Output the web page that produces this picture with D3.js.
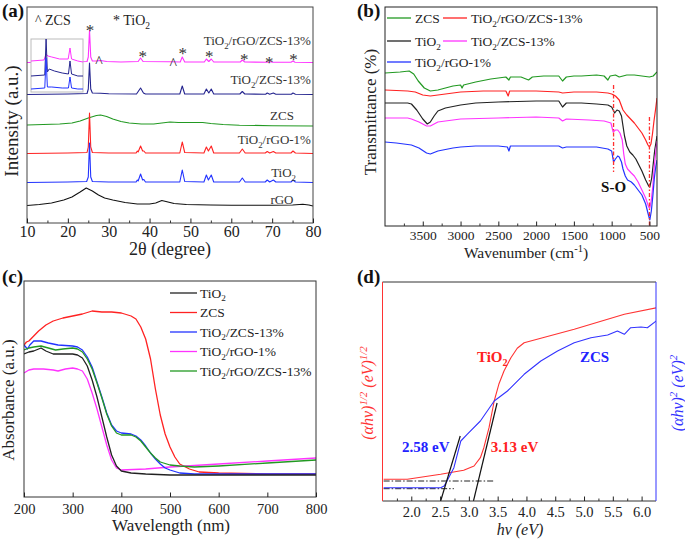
<!DOCTYPE html>
<html>
<head>
<meta charset="utf-8">
<script src="https://cdn.jsdelivr.net/npm/d3@7"></script>
<style>
  body { margin: 0; background: #fff; }
</style>
</head>
<body>
<div id="chart"></div>
<script>
// ---------- (a) XRD: [2θ, intensity] per sample, stacked with offsets ----------
const xrdComposite = [[10,0.5],[20,1],[24.7,1.5],[25.0,6],[25.3,33],[25.6,6],[26,2],[27,2],[28,2.5],[29.5,1.5],[33,1],[37.2,1.5],[37.8,5],[38.4,1.5],[45,1.2],[47.5,1],[48.0,6],[48.6,1],[53.4,1],[53.9,4],[54.5,1.5],[55.1,4],[55.7,1],[62.2,1],[62.7,3],[63.3,1],[69.1,0.8],[69.5,1.5],[70,0.8],[74.6,0.8],[75.1,2],[75.6,0.8],[80,0.5]];
const xrdTiO2ZCS = [[10,0.5],[20,1],[24.7,1.5],[25.0,6],[25.3,32],[25.6,6],[26,2],[28,1.8],[30,1.2],[36.8,1],[37.8,7],[38.5,2],[39,1],[47.4,1],[48.0,9],[48.6,1],[53.3,1],[53.9,6],[54.5,2],[55.1,6],[55.7,1],[62.1,1],[62.7,3.5],[63.3,1],[68.4,0.8],[68.8,2],[69.4,0.8],[70.3,2],[70.9,0.8],[74.7,0.8],[75.1,2],[75.7,0.8],[80,0.5]];
const xrdZCS = [[10,1],[14,1.5],[18,2],[21,3],[23,5],[25,8],[27,10.5],[28,11],[29.5,9.5],[31,7],[33,4.5],[35,3],[38,2],[41,2],[43,3],[45,4],[47,3.5],[49,3.5],[51,3.5],[53,3.5],[55,2.5],[58,1.5],[62,0.8],[70,0.3],[80,0]];
const xrdTiO2rGO = [[10,0.5],[20,1],[24.7,1.5],[25.0,7],[25.3,41],[25.6,7],[26,1.5],[30,1],[36.7,1],[37.0,3],[37.2,2],[37.8,8],[38.3,3],[38.6,3],[39,1],[47.4,1],[48.0,12],[48.6,1.5],[53.3,1],[53.9,7],[54.4,3],[55.1,8],[55.7,1],[62.0,1],[62.7,5],[63.4,1],[68.3,1],[68.8,2.5],[69.4,1],[70.3,2.5],[70.9,1],[74.6,1],[75.1,3],[75.7,1],[80,0.5]];
const xrdTiO2 = [[10,0.5],[20,1],[24.6,1.5],[25.0,6],[25.3,40],[25.6,6],[26,1.5],[30,1],[36.7,1],[37.0,3],[37.2,2],[37.8,9],[38.3,3],[38.6,3.5],[39,1],[47.4,1],[48.0,13],[48.6,1.5],[53.3,1],[53.9,8],[54.4,3],[55.1,8],[55.7,1],[62.0,1],[62.7,5],[63.4,1],[68.3,1],[68.8,3],[69.4,1],[70.3,3],[70.9,1],[74.6,1],[75.1,3],[75.7,1],[80,0.5]];
const xrdRGO = [[10,1.5],[13,2.5],[16,4],[19,7],[21,10],[23,15],[24.5,19],[26,16],[27.5,12],[29,9],[31,7],[34,4.5],[37,3],[40,3],[41.5,4],[43,6.5],[44.5,5],[46,3.5],[49,2.5],[55,2],[60,1.8],[70,1.8],[75,2],[77.5,2.8],[79,2],[80,1]];
const xrdNames = ["TiO_{2}/rGO/ZCS-13%", "TiO_{2}/ZCS-13%", "ZCS", "TiO_{2}/rGO-1%", "TiO_{2}", "rGO"];
const xrdOffsets = [160, 128, 97, 69, 40, 16];
// inset (zoomed region of the top three patterns)
const insetComposite = [[20,31],[25.0,32],[25.8,38],[26.5,36],[28,35],[31,33],[34.3,33],[35,44],[35.6,33],[38,31],[40,30]];
const insetTiO2ZCS = [[20,16],[25.3,17],[25.8,53],[26.3,20],[27,23],[29,21],[32,19],[34.4,18],[35,31],[35.6,18],[38,16],[40,16]];
const insetTiO2rGO = [[20,3],[25.3,4],[25.8,34],[26.3,5],[28,5],[32,4],[34.4,4],[35,15],[35.6,4],[38,3],[40,3]];
// phase markers above the top pattern: [2θ, height, symbol]
const xrdMarks = [[25.4,196,"*"],[27.6,166,"^"],[38.3,170,"*"],[45.8,164,"^"],[48.1,173,"*"],[54.6,170,"*"],[63.2,167,"*"],[69.3,164,"*"],[75.2,167,"*"]];

// ---------- (b) FTIR: [wavenumber, transmittance a.u.] ----------
const ftirZCS = [[4000,153],[3800,154],[3680,155],[3620,152],[3560,145],[3480,138],[3400,135],[3300,136],[3200,138],[3100,140],[3000,141],[2980,138],[2960,141],[2800,144],[2600,147],[2400,149],[2360,146],[2340,149],[2200,149],[2100,146],[2050,149],[1900,150],[1700,150],[1650,145],[1600,149],[1500,150],[1400,150],[1200,151],[1100,150],[1050,146],[1020,150],[950,151],[900,149],[800,151],[700,151],[600,150],[500,149],[450,150],[400,154]];
const ftirComposite = [[4000,136],[3700,135],[3600,134],[3500,131],[3400,130],[3300,131],[3100,133],[3000,134],[2700,135],[2400,135],[2370,130],[2350,135],[2000,135],[1700,134],[1650,133],[1500,134],[1200,134],[1050,133],[1000,132],[950,130],[900,126],[870,120],[850,116],[800,111],[750,107],[700,103],[650,98],[600,93],[550,86],[520,81],[500,79],[480,82],[460,92],[440,105],[420,116],[400,128]];
const ftirTiO2 = [[4000,123],[3700,123],[3650,122],[3580,116],[3500,107],[3440,102],[3400,104],[3350,110],[3300,115],[3200,118],[3000,121],[2800,123],[2500,124],[2000,125],[1700,125],[1650,119],[1600,123],[1400,123],[1200,122],[1050,121],[1000,119],[960,113],[930,116],[900,115],[870,110],[850,100],[830,90],[800,80],[760,74],[720,71],[680,67],[640,61],[600,55],[550,46],[510,40],[495,39],[470,48],[450,62],[430,76],[400,90]];
const ftirTiO2ZCS = [[4000,108],[3700,108],[3650,107],[3550,104],[3450,100],[3400,100],[3300,104],[3100,106],[3000,107],[2500,108],[2000,109],[1700,108],[1650,105],[1600,107],[1300,106],[1100,105],[1010,103],[980,94],[950,96],[920,96],[890,93],[860,86],[840,72],[820,62],[790,57],[740,53],[700,50],[650,44],[600,36],[550,28],[510,19],[495,18],[475,26],[455,40],[435,60],[415,75],[400,85]];
const ftirTiO2rGO = [[4000,84],[3850,83],[3750,82],[3650,81],[3550,78],[3450,73],[3400,72],[3300,75],[3100,78],[3000,79],[2800,80],[2500,80],[2380,79],[2360,75],[2340,80],[2000,80],[1700,80],[1650,78],[1600,79],[1400,79],[1200,79],[1050,77],[1000,75],[975,64],[950,67],[920,70],[900,69],[870,64],[850,57],[820,50],[790,46],[740,44],[700,41],[650,36],[600,31],[550,22],[510,10],[495,6],[475,15],[455,30],[435,48],[415,60],[400,66]];
const ftirNames = ["ZCS", "TiO_{2}/rGO/ZCS-13%", "TiO_{2}", "TiO_{2}/ZCS-13%", "TiO_{2}/rGO-1%"];
// S-O guide lines: [wavenumber, top, bottom]
const soGuides = [[975,141,54],[500,109,0]];

// ---------- (c) UV-vis: [wavelength nm, absorbance a.u.] ----------
const uvTiO2 = [[200,143],[210,145],[220,146],[230,148],[235,149],[245,146],[260,143],[280,143],[300,143],[310,142],[320,139],[330,131],[340,117],[350,100],[360,80],[370,60],[380,42],[390,31],[400,26],[420,24],[450,23],[500,22],[600,22],[700,22],[800,22]];
const uvZCS = [[200,152],[205,155],[210,156],[220,161],[230,166],[245,172],[260,176],[280,179],[300,181],[320,183],[340,186],[360,185],[380,185],[400,184],[420,181],[430,178],[440,170],[450,158],[460,138],[470,108],[480,82],[490,63],[500,50],[510,40],[520,33],[540,28],[560,25],[600,24],[700,23],[800,23]];
const uvTiO2ZCS = [[200,152],[207,148],[212,152],[220,156],[235,156],[250,154],[270,152],[300,151],[310,150],[320,147],[330,140],[340,130],[350,115],[360,100],[370,84],[380,72],[390,66],[400,64],[420,63],[430,61],[440,57],[450,51],[460,44],[470,38],[480,33],[490,29],[500,27],[520,24],[550,23],[600,23],[800,23]];
const uvTiO2rGO = [[200,124],[210,127],[220,128],[240,128],[260,127],[270,126],[285,128],[300,129],[310,128],[320,126],[330,118],[340,104],[350,88],[360,70],[370,52],[380,37],[390,29],[400,27],[450,28],[500,30],[600,33],[700,36],[800,39]];
const uvComposite = [[200,147],[210,149],[220,150],[235,151],[250,149],[265,147],[280,148],[300,149],[310,148],[320,145],[330,138],[340,128],[350,114],[360,99],[370,83],[380,71],[390,64],[400,62],[420,62],[430,60],[440,56],[450,50],[460,44],[470,39],[480,35],[500,32],[520,31],[550,30],[600,31],[700,34],[800,37]];
const uvNames = ["TiO_{2}", "ZCS", "TiO_{2}/ZCS-13%", "TiO_{2}/rGO-1%", "TiO_{2}/rGO/ZCS-13%"];

// ---------- (d) Tauc plots: [hν eV, value a.u.] ----------
const taucTiO2 = [[1.52,21.7],[1.93,21.7],[2.51,26.7],[2.91,30.7],[3.09,35],[3.20,43.3],[3.26,53.3],[3.35,73.3],[3.44,100],[3.52,116.7],[3.61,130],[3.73,143.3],[3.84,152.7],[3.96,158.3],[4.25,162.7],[4.83,171.7],[5.41,181.7],[5.70,186.7],[6.27,193.3]];
const taucZCS = [[1.52,13.3],[2.51,13.3],[2.57,15],[2.62,20],[2.74,33.3],[2.86,60],[2.97,66.7],[3.20,80],[3.44,100],[3.67,110],[3.96,126.7],[4.25,140],[4.54,150],[4.83,158.3],[5.12,163.3],[5.41,166],[5.58,170],[5.70,166.7],[5.81,173.3],[5.99,174],[6.10,173.3],[6.27,180.7]];
const tangentZCS = [[2.51,0],[2.85,65]];
const tangentTiO2 = [[3.08,0],[3.49,98]];
const baseTiO2 = [[1.52,20],[3.44,20]];
const baseZCS = [[1.52,12.3],[2.74,12.3]];
const gapLabels = ["2.58 eV", "3.13 eV"];

// ---------- drawing ----------
const W = 685, H = 539;
const FONT = '"Liberation Serif", "Times New Roman", serif';
const svg = d3.select("#chart").append("svg")
  .attr("width", W).attr("height", H)
  .attr("font-family", FONT);

// "_{..}" = subscript, "^{..}" = superscript
function rich(t, s) {
  const fs = +t.attr("font-size");
  let prev = 0;
  s.split(/([_^]\{[^}]*\})/).filter(p => p).forEach(p => {
    const m = p.match(/^([_^])\{([^}]*)\}$/);
    let shift = 0, txt = p;
    if (m) { shift = m[1] === "_" ? 0.28 : -0.4; txt = m[2]; }
    const ts = t.append("tspan").attr("dy", ((shift - prev) * fs).toFixed(2)).text(txt);
    if (m) ts.attr("font-size", (fs * 0.68).toFixed(1));
    prev = shift;
  });
  return t;
}
function label(x, y, s, fs, o = {}) {
  const t = svg.append("text").attr("x", x).attr("y", y).attr("font-size", fs)
    .attr("fill", o.fill || "#222").attr("text-anchor", o.anchor || "start");
  if (o.bold) t.attr("font-weight", "bold");
  if (o.italic) t.attr("font-style", "italic");
  if (o.rotate) t.attr("transform", `rotate(-90,${x},${y})`);
  return rich(t, s);
}
function clip(id, x, y) {
  const [a, b] = x.range(), [c, d] = y.range();
  svg.append("clipPath").attr("id", id).append("rect")
    .attr("x", Math.min(a, b)).attr("y", Math.min(c, d))
    .attr("width", Math.abs(b - a)).attr("height", Math.abs(d - c));
  return svg.append("g").attr("clip-path", `url(#${id})`);
}
function box(x, y, stroke) {
  const [a, b] = x.range(), [c, d] = y.range();
  svg.append("rect").attr("x", Math.min(a, b)).attr("y", Math.min(c, d))
    .attr("width", Math.abs(b - a)).attr("height", Math.abs(d - c))
    .attr("fill", "none").attr("stroke", stroke || "#333").attr("stroke-width", 1);
}
function bottomAxis(x, y0, major, minor, fs, pad, fmt) {
  if (minor.length) svg.append("g").attr("transform", `translate(0,${y0})`)
    .call(d3.axisBottom(x).tickValues(minor).tickSize(-2.5).tickFormat(""))
    .attr("color", "#333")
    .call(a => a.select(".domain").remove());
  svg.append("g").attr("transform", `translate(0,${y0})`)
    .call(d3.axisBottom(x).tickValues(major).tickSize(-4.5).tickPadding(pad).tickFormat(fmt))
    .attr("font-family", FONT).attr("font-size", fs).attr("color", "#222")
    .call(a => a.select(".domain").remove());
}
function draw(g, x, y, data, color, w, off = 0) {
  g.append("path").datum(data)
    .attr("fill", "none").attr("stroke", color).attr("stroke-width", w)
    .attr("stroke-linejoin", "round")
    .attr("d", d3.line().x(d => x(d[0])).y(d => y(d[1] + off)));
}

// ===== (a) =====
{
  const x = d3.scaleLinear().domain([10, 80]).range([27, 313]);
  const y = d3.scaleLinear().domain([0, 216]).range([223, 7]);
  const g = clip("clipA", x, y);
  const series = [xrdComposite, xrdTiO2ZCS, xrdZCS, xrdTiO2rGO, xrdTiO2, xrdRGO];
  const colors = ["#ff33ff", "#25258f", "#229922", "#ff2222", "#2233ff", "#111"];
  series.forEach((s, i) => draw(g, x, y, s, colors[i], 1.1, xrdOffsets[i]));

  // inset
  const ix = d3.scaleLinear().domain([20, 40]).range([31, 83]);
  const iy = d3.scaleLinear().domain([0, 53]).range([92, 39]);
  svg.append("rect").attr("x", 31).attr("y", 39).attr("width", 52).attr("height", 53)
    .attr("fill", "#fff").attr("stroke", "#bbb").attr("stroke-width", 1);
  draw(svg, ix, iy, insetComposite, "#ff33ff", 1);
  draw(svg, ix, iy, insetTiO2ZCS, "#25258f", 1);
  draw(svg, ix, iy, insetTiO2rGO, "#2233ff", 1);

  box(x, y, "#444");
  bottomAxis(x, 223, d3.range(10, 81, 10), d3.range(15, 80, 10), 16, 2.5, d3.format("d"));

  // markers
  xrdMarks.forEach(m => label(x(m[0]), y(m[1]) + (m[2] === "*" ? 9 : 10), m[2], m[2] === "*" ? 17 : 16, { anchor: "middle", fill: "#333" }));
  label(35, 25, "^ ZCS", 14, { fill: "#222" });
  label(113, 25, "* TiO_{2}", 14, { fill: "#222" });

  // sample labels
  const lx = [79.5, 79.5, 72.4, 79.5, 72.8, 72.4];
  const ly = [45, 84, 120, 144, 177, 204];
  const anc = ["end", "end", "middle", "end", "middle", "middle"];
  xrdNames.forEach((n, i) => label(x(lx[i]), ly[i], n, 13, { anchor: anc[i], fill: "#333" }));

  label(170, 255, "2θ (degree)", 18, { anchor: "middle" });
  label(18, 121, "Intensity (a.u.)", 19, { anchor: "middle", rotate: true });
  label(2, 17, "(a)", 19, { bold: true, fill: "#111" });
}

// ===== (b) =====
{
  const x = d3.scaleLinear().domain([4000, 400]).range([385, 657]);
  const y = d3.scaleLinear().domain([0, 219]).range([226, 7]);
  const g = clip("clipB", x, y);
  const series = [ftirZCS, ftirComposite, ftirTiO2, ftirTiO2ZCS, ftirTiO2rGO];
  const colors = ["#229922", "#ff2222", "#222", "#ff33ff", "#2233ff"];
  series.forEach((s, i) => draw(g, x, y, s, colors[i], 1.2));
  soGuides.forEach(s => g.append("line")
    .attr("x1", x(s[0])).attr("x2", x(s[0])).attr("y1", y(s[1])).attr("y2", y(s[2]))
    .attr("stroke", "#ff3030").attr("stroke-width", 1.3).attr("stroke-dasharray", "4,2,1.5,2"));
  box(x, y, "#222");
  bottomAxis(x, 226, d3.range(3500, 400, -500), [3750, 3250, 2750, 2250, 1750, 1250, 750], 13.5, 4, d3.format("d"));

  // legend
  const lgx = [387, 443, 387, 443, 387];
  const lgy = [18, 18, 41, 41, 62];
  ftirNames.forEach((n, i) => {
    svg.append("line").attr("x1", lgx[i]).attr("x2", lgx[i] + 24)
      .attr("y1", lgy[i]).attr("y2", lgy[i]).attr("stroke", colors[i]).attr("stroke-width", 1.3);
    label(lgx[i] + 28, lgy[i] + 5, n, 13.5, { fill: "#222" });
  });
  label(x(975), 192, "S-O", 15, { anchor: "middle", bold: true, fill: "#111" });
  label(526, 258, "Wavenumber (cm^{-1})", 15.5, { anchor: "middle" });
  label(376, 112, "Transmittance (%)", 17, { anchor: "middle", rotate: true });
  label(357, 17, "(b)", 19, { bold: true, fill: "#111" });
}

// ===== (c) =====
{
  const x = d3.scaleLinear().domain([200, 800]).range([24, 316]);
  const y = d3.scaleLinear().domain([0, 216]).range([497, 281]);
  const g = clip("clipC", x, y);
  const series = [uvTiO2, uvZCS, uvTiO2ZCS, uvTiO2rGO, uvComposite];
  const colors = ["#222", "#ff2222", "#2233ff", "#ff33ff", "#229922"];
  // draw order: keep black and green on top like the original
  [1, 3, 2, 4, 0].forEach(i => draw(g, x, y, series[i], colors[i], 1.3));
  box(x, y, "#333");
  bottomAxis(x, 497, d3.range(200, 801, 100), [], 14.5, 6.5, d3.format("d"));
  uvNames.forEach((n, i) => {
    const ry = 293 + i * 19.5;
    svg.append("line").attr("x1", 170).attr("x2", 197).attr("y1", ry).attr("y2", ry)
      .attr("stroke", colors[i]).attr("stroke-width", 1.3);
    label(200, ry + 4.5, n, 13.5, { fill: "#222" });
  });
  label(171, 531, "Wavelength (nm)", 17, { anchor: "middle" });
  label(14, 400, "Absorbance (a.u.)", 17, { anchor: "middle", rotate: true });
  label(2, 283, "(c)", 19, { bold: true, fill: "#111" });
}

// ===== (d) =====
{
  const x = d3.scaleLinear().domain([1.5, 6.25]).range([382.5, 656]);
  const y = d3.scaleLinear().domain([0, 219]).range([501, 282]);
  const g = clip("clipD", x, y);
  [baseTiO2, baseZCS].forEach(b => g.append("path").datum(b)
    .attr("fill", "none").attr("stroke", "#222").attr("stroke-width", 1)
    .attr("stroke-dasharray", "6,2,1.5,2")
    .attr("d", d3.line().x(d => x(d[0])).y(d => y(d[1]))));
  draw(g, x, y, taucTiO2, "#ff3333", 1.1);
  draw(g, x, y, taucZCS, "#3333ff", 1.1);
  draw(g, x, y, tangentZCS, "#111", 1.2);
  draw(g, x, y, tangentTiO2, "#111", 1.2);

  const [x0, x1] = x.range(), [yb, yt] = y.range();
  svg.append("line").attr("x1", x0).attr("x2", x1).attr("y1", yt).attr("y2", yt).attr("stroke", "#333");
  svg.append("line").attr("x1", x0).attr("x2", x1).attr("y1", yb).attr("y2", yb).attr("stroke", "#333");
  svg.append("line").attr("x1", x0).attr("x2", x0).attr("y1", yt).attr("y2", yb).attr("stroke", "#ff3333");
  svg.append("line").attr("x1", x1).attr("x2", x1).attr("y1", yt).attr("y2", yb).attr("stroke", "#3333ff");
  bottomAxis(x, 501, d3.range(2, 6.01, 0.5), d3.range(1.75, 6.1, 0.5), 14.5, 6, d3.format(".1f"));

  label(x(3.14), y(139), "TiO_{2}", 15, { bold: true, fill: "#ff2222" });
  label(x(4.93), y(139), "ZCS", 15, { bold: true, fill: "#2222ff" });
  label(x(1.84), y(49), gapLabels[0], 15, { bold: true, fill: "#2222ff" });
  label(x(3.38), y(49), gapLabels[1], 15, { bold: true, fill: "#ff2222" });

  label(520, 535, "hν (eV)", 16, { anchor: "middle", italic: true });
  label(373, 393, "(αhν)^{1/2} (eV)^{1/2}", 16, { anchor: "middle", rotate: true, italic: true, fill: "#ff3333" });
  label(683, 393, "(αhν)^{2} (eV)^{2}", 16, { anchor: "middle", rotate: true, italic: true, fill: "#3333ff" });
  label(357, 283, "(d)", 19, { bold: true, fill: "#111" });
}
</script>
</body>
</html>
